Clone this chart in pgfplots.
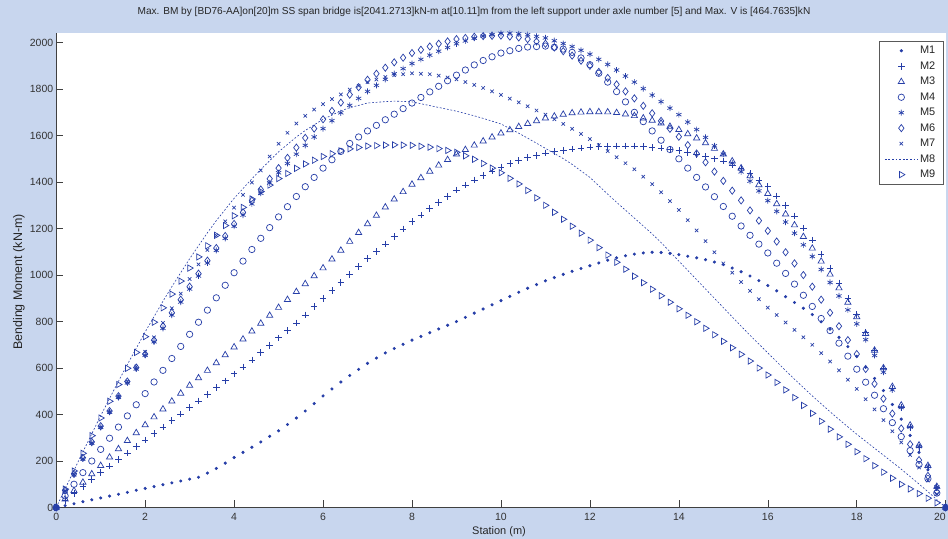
\documentclass[border=0pt]{standalone}
\usepackage{fontspec}
\setmainfont{Liberation Sans}
\usepackage{pgfplots}
\usepackage{pgfplotstable}
\pgfplotsset{compat=1.18}
\definecolor{figbg}{RGB}{200,214,238}
\definecolor{mblue}{RGB}{38,62,168}

% station (m) and bending moment (kN-m) under axles 1..9
\pgfplotstableread{
x    M1   M2   M3   M4   M5   M6   M7   M8   M9
0    0    0    0    0    0    0    0    0    0
0.2  8    30   36   50   71   73   71   80   79
0.4  16   60   72   100  141  145  141  160  157
0.6  25   90   108  150  209  214  209  239  233
0.8  33   120  144  200  277  282  277  317  309
1.0  41   150  180  250  345  350  345  395  385
1.2  49   178  216  298  410  415  411  469  457
1.4  57   206  252  346  474  479  477  543  529
1.6  65   234  287  394  536  542  542  615  599
1.8  74   262  321  442  596  602  606  685  667
2.0  82   290  355  490  655  660  670  755  735
2.2  90   318  389  540  713  720  732  821  797
2.4  98   346  423  590  771  780  794  887  859
2.6  106  374  457  641  828  838  857  950  918
2.8  114  402  491  693  884  894  920  1010 974
3.0  122  430  525  745  940  950  983  1070 1030
3.2  130  458  557  797  996  1006 1046 1126 1078
3.4  148  486  589  849  1052 1062 1108 1182 1126
3.6  168  515  622  902  1106 1116 1170 1234 1171
3.8  191  545  656  956  1158 1168 1231 1282 1213
4.0  215  575  690  1010 1210 1220 1290 1330 1255
4.2  237  605  724  1060 1258 1270 1345 1372 1291
4.4  259  635  758  1110 1306 1320 1398 1414 1327
4.6  282  666  792  1158 1352 1368 1450 1454 1359
4.8  306  698  826  1204 1396 1414 1510 1492 1387
5.0  330  730  860  1250 1440 1460 1565 1530 1415
5.2  357  762  894  1294 1480 1504 1612 1562 1437
5.4  385  794  928  1338 1520 1548 1652 1594 1459
5.6  415  828  962  1380 1558 1590 1685 1622 1478
5.8  447  864  996  1420 1594 1630 1712 1646 1494
6.0  480  900  1030 1460 1630 1670 1735 1670 1510
6.2  510  934  1068 1496 1664 1706 1757 1688 1522
6.4  540  968  1106 1532 1698 1742 1777 1706 1534
6.6  568  1002 1144 1566 1730 1776 1798 1720 1543
6.8  594  1036 1182 1594 1760 1808 1814 1730 1549
7.0  620  1070 1220 1620 1790 1840 1830 1740 1555
7.2  643  1102 1256 1644 1816 1866 1841 1743 1557
7.4  665  1134 1292 1668 1842 1892 1852 1746 1559
7.6  684  1166 1326 1692 1866 1915 1860 1748 1560
7.8  702  1198 1358 1716 1888 1935 1864 1747 1559
8.0  720  1230 1390 1740 1910 1955 1868 1745 1558
8.2  736  1258 1418 1764 1928 1969 1866 1737 1554
8.4  752  1286 1446 1788 1946 1983 1864 1729 1550
8.6  768  1313 1472 1812 1963 1995 1858 1721 1544
8.8  784  1339 1496 1836 1979 2005 1850 1713 1536
9.0  800  1365 1520 1860 1995 2015 1842 1705 1528
9.2  818  1387 1539 1882 2007 2020 1830 1695 1513
9.4  836  1409 1558 1904 2019 2025 1818 1685 1498
9.6  854  1429 1576 1923 2028 2028 1805 1674 1480
9.8  872  1447 1593 1939 2034 2029 1790 1662 1460
10.0 890  1465 1610 1955 2040 2030 1775 1650 1440
10.2 908  1479 1624 1965 2041 2026 1759 1630 1416
10.4 926  1493 1638 1975 2038 2022 1743 1610 1392
10.6 943  1505 1651 1981 2034 2015 1726 1589 1364
10.8 959  1515 1663 1983 2027 2005 1708 1567 1332
11.0 975  1525 1675 1985 2020 1995 1690 1545 1300
11.2 989  1531 1683 1980 2008 1979 1670 1523 1270
11.4 1003 1537 1691 1972 1996 1963 1650 1501 1240
11.6 1016 1542 1697 1958 1983 1944 1629 1476 1210
11.8 1028 1546 1700 1934 1967 1922 1607 1448 1180
12.0 1040 1550 1702 1905 1950 1900 1585 1420 1150
12.2 1052 1552 1702 1868 1928 1874 1559 1384 1118
12.4 1064 1554 1701 1830 1906 1848 1533 1348 1086
12.6 1074 1555 1698 1789 1882 1820 1507 1313 1055
12.8 1083 1555 1692 1745 1856 1790 1481 1279 1025
13.0 1090 1555 1685 1700 1830 1760 1455 1245 995
13.2 1095 1552 1675 1660 1802 1728 1423 1211 967
13.4 1098 1549 1665 1620 1774 1696 1391 1177 939
13.6 1097 1546 1653 1580 1746 1663 1356 1140 911
13.8 1093 1541 1639 1540 1718 1629 1318 1100 883
14.0 1088 1535 1625 1500 1690 1595 1280 1060 855
14.2 1081 1527 1607 1460 1658 1559 1236 1020 827
14.4 1074 1519 1589 1420 1626 1523 1192 980  799
14.6 1066 1510 1568 1379 1592 1485 1146 940  771
14.8 1056 1500 1544 1337 1556 1445 1098 900  743
15.0 1045 1490 1520 1295 1520 1405 1050 860  715
15.2 1030 1474 1490 1253 1482 1363 1010 820  687
15.4 1014 1458 1460 1211 1444 1321 970  780  659
15.6 996  1436 1426 1171 1404 1278 932  741  630
15.8 976  1408 1388 1133 1362 1234 896  703  600
16.0 955  1380 1350 1095 1320 1190 860  665  570
16.2 932  1340 1306 1051 1274 1144 828  627  538
16.4 907  1300 1262 1007 1228 1098 796  589  506
16.6 882  1254 1215 961  1180 1050 764  552  473
16.8 857  1202 1165 913  1130 1000 732  516  439
17.0 830  1150 1115 865  1080 950  700  480  405
17.2 799  1090 1059 813  1024 894  664  446  371
17.4 767  1030 1003 761  968  838  628  412  337
17.6 732  966  944  707  910  780  590  379  304
17.8 692  898  882  651  850  720  550  347  272
18.0 650  830  820  595  790  660  510  315  240
18.2 603  754  748  539  722  596  466  285  210
18.4 555  678  676  483  654  532  422  255  180
18.6 503  598  600  425  582  468  376  225  152
18.8 443  514  520  365  506  404  328  195  126
19.0 380  430  440  305  430  340  280  165  100
19.2 310  344  354  245  346  272  226  133  80
19.4 237  258  268  185  262  204  172  101  60
19.6 162  172  180  124  176  136  116  68   40
19.8 82   86   90   62   88   68   58   34   20
20.0 0    0    0    0    0    0    0    0    0
}\bmtable

\begin{document}
\begin{tikzpicture}
\fill[figbg] (0bp,0bp) rectangle (948bp,539bp);
\begin{axis}[
  at={(56.2bp,31.5bp)}, anchor=south west,
  scale only axis, width=889.5bp, height=474.5bp,
  xmin=0, xmax=20, ymin=0, ymax=2041.27,
  xtick={0,2,...,20}, ytick={0,200,...,2000},
  xticklabels={0,2,4,6,8,10,12,14,16,18,\llap{20}},
  axis x line*=bottom, axis y line*=left,
  tick align=inside, major tick length=7bp,
  axis line style={line width=0.8bp, black!75},
  tick style={line width=0.6bp, black!75},
  axis background/.style={fill=white},
  clip=false,
  ticklabel style={font=\fontsize{10.5}{12}\selectfont, text=black!80},
  /pgf/number format/assume math mode=true,
  /pgf/number format/1000 sep={},
  xticklabel style={yshift=-2bp},
  yticklabel style={xshift=0.5bp},
  legend cell align=left,
  legend style={at={(0.997,0.983)}, anchor=north east, draw=black!65, fill=white,
    font=\fontsize{11}{12}\selectfont, text=black!85, row sep=2.4bp, inner xsep=5.5bp, inner ysep=3bp},
  legend image code/.code={\draw[mark repeat=2,mark phase=2,#1] plot coordinates {(0bp,0bp) (16.5bp,0bp) (33bp,0bp)};},
  every axis plot/.append style={mblue, line width=0.7bp},
]
\addplot[only marks, mark=*, mark size=1.2bp] table[x=x,y=M1] {\bmtable};
\addplot[only marks, mark=+, mark size=3.3bp] table[x=x,y=M2] {\bmtable};
\addplot[only marks, mark=triangle, mark size=3.6bp] table[x=x,y=M3] {\bmtable};
\addplot[only marks, mark=o, mark size=3.2bp] table[x=x,y=M4] {\bmtable};
\addplot[only marks, mark=asterisk, mark size=3bp] table[x=x,y=M5] {\bmtable};
\addplot[only marks, mark=diamond, mark size=3.6bp] table[x=x,y=M6] {\bmtable};
\addplot[only marks, mark=x, mark size=2.4bp] table[x=x,y=M7] {\bmtable};
\addplot[no marks, line width=0.6bp, dash pattern=on 1.8bp off 1.8bp] table[x=x,y=M8] {\bmtable};
\addplot[only marks, mark=triangle, mark size=3.6bp, mark options={rotate=-90}] table[x=x,y=M9] {\bmtable};
\legend{M1,M2,M3,M4,M5,M6,M7,M8,M9}
\end{axis}
\node[font=\fontsize{10.15}{12}\selectfont, text=black!85] at (474bp,527bp) {Max. BM by [BD76-AA]on[20]m SS span bridge is[2041.2713]kN-m at[10.11]m from the left support under axle number [5] and Max. V is [464.7635]kN};
\node[font=\fontsize{11}{12}\selectfont, text=black!85] at (499bp,7bp) {Station (m)};
\node[font=\fontsize{12.5}{14}\selectfont, text=black!85, rotate=90] at (19bp,257bp) {Bending Moment (kN-m)};
\pgfresetboundingbox
\useasboundingbox (0bp,0bp) rectangle (948bp,539bp);
\end{tikzpicture}
\end{document}
